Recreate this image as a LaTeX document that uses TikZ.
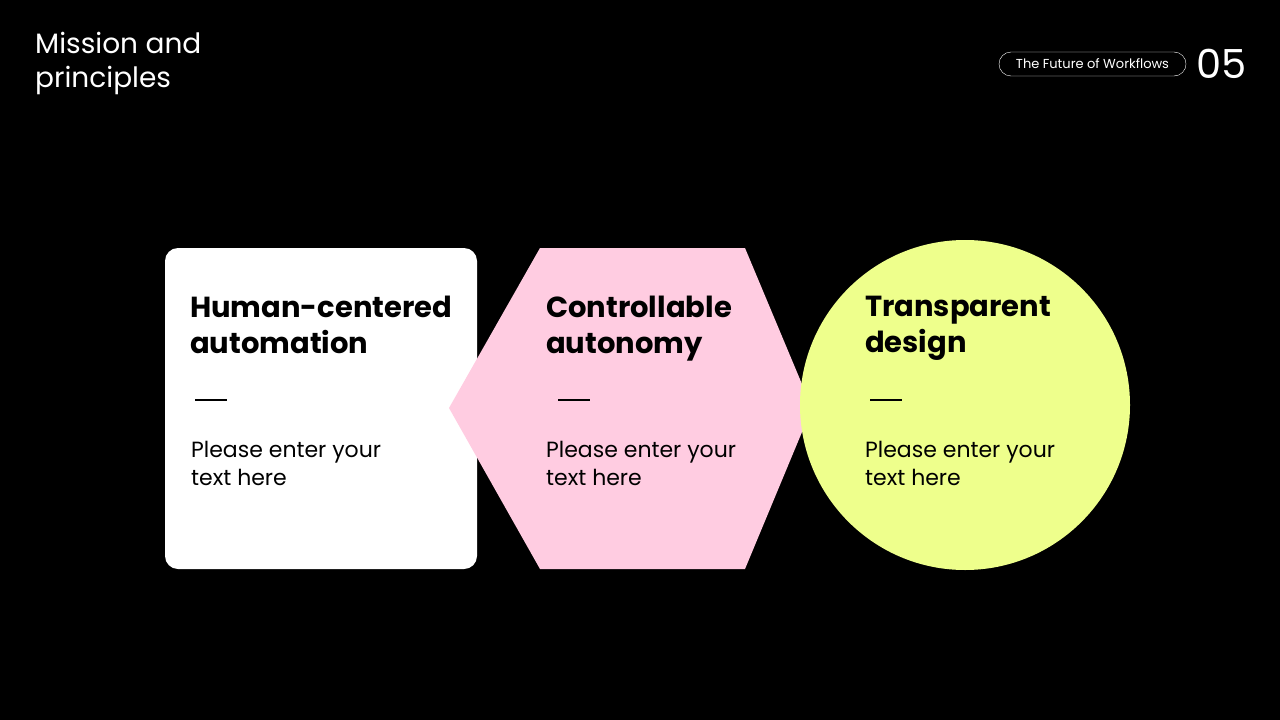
\documentclass[tikz,border=0pt]{standalone}
\usepackage{fontspec}
\setmainfont{Poppins}
\begin{document}
\begin{tikzpicture}[x=1pt,y=-1pt,
  ttl/.style={anchor=north west,align=left,font=\fontsize{29}{36}\selectfont\bfseries,inner sep=0},
  body/.style={anchor=north west,align=left,font=\fontsize{22}{28}\selectfont,inner sep=0},
  dashl/.style={line width=1.5pt,black}]
\fill[black] (0,0) rectangle (1280,720);
\useasboundingbox (0,0) rectangle (1280,720);
\node[anchor=north west,align=left,text=white,inner sep=0,font=\fontsize{28}{34}\selectfont] (head) at (35,32) {Mission and\\principles};
\node[draw=white,rounded corners=12pt,text=white,font=\fontsize{13}{15}\selectfont,minimum width=187pt,minimum height=24pt,inner sep=0] (pill) at (1092.5,64) {The Future of Workflows};
\node[text=white,font=\fontsize{40}{44}\selectfont,inner sep=0,anchor=west] (num) at (1196,64) {05};
\fill[white,rounded corners=13pt] (165,248) rectangle (477,569);
\fill[fill={rgb,255:red,255;green,204;blue,225}] (540,248) -- (745,248) -- (812,408) -- (745,569) -- (540,569) -- (449,408) -- cycle;
\fill[fill={rgb,255:red,238;green,255;blue,140}] (965,405) circle (165);
\node[ttl] (t1) at (190,296) {Human-centered\\automation};
\node[ttl] (t2) at (546,296) {Controllable\\autonomy};
\node[ttl] (t3) at (865,296) {Transparent\\design};
\foreach \x in {195,558,870} \draw[dashl] (\x,400) -- ++(32,0);
\node[body] (b1) at (191,441) {Please enter your\\text here};
\node[body] (b2) at (546,441) {Please enter your\\text here};
\node[body] (b3) at (865,441) {Please enter your\\text here};
\end{tikzpicture}
\end{document}
